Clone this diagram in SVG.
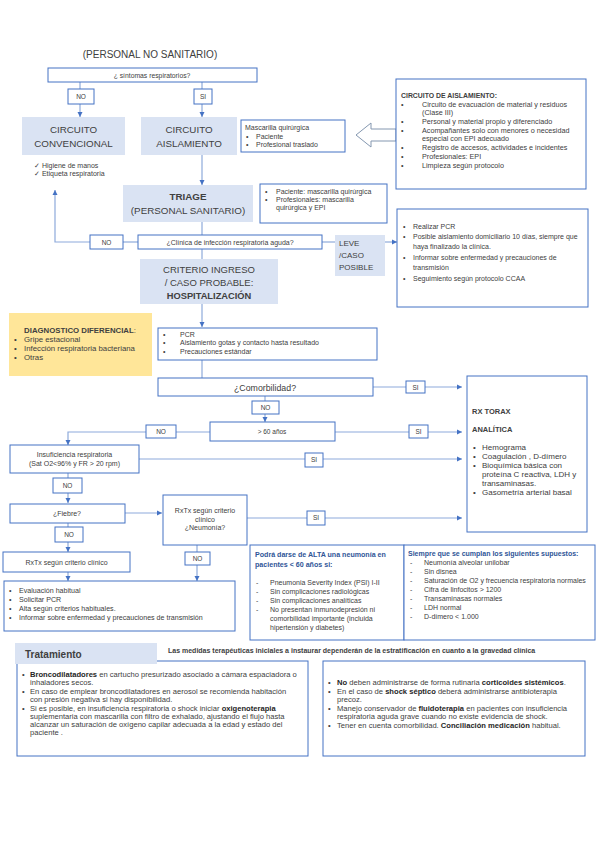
<svg xmlns="http://www.w3.org/2000/svg" width="600" height="848" viewBox="0 0 600 848">
<defs>
<marker id="ah" markerWidth="6" markerHeight="6" refX="5" refY="3" orient="auto" markerUnits="userSpaceOnUse"><path d="M0,0.5 L5,3 L0,5.5 Z" fill="#4472c4"/></marker>
<style>
text{font-family:"Liberation Sans",Arial,sans-serif;fill:#404040}
.b{fill:#fff;stroke:#4472c4;stroke-width:1}
.f{fill:#dae3f3;stroke:none}
.ln{stroke:#8eaadb;stroke-width:1.2;fill:none}
.ar{stroke:#8eaadb;stroke-width:1.2;fill:none;marker-end:url(#ah)}
.s7{font-size:7px}
.s65{font-size:6.5px}
.big{font-size:9.8px}
.m{text-anchor:middle}
.bd{font-weight:bold}
.blue{fill:#2f5597;font-weight:bold}
</style>
</defs>
<rect width="600" height="848" fill="#fff"/>

<g id="connectors">
<path class="ln" d="M80,82 V89"/><path class="ar" d="M80,104 V117"/>
<path class="ln" d="M202,82 V89"/><path class="ar" d="M202,104 V117"/>
<path class="ar" d="M202,155 V185"/>
<path class="ln" d="M202,222 V235"/>
<path class="ln" d="M202,249 V259"/>
<path class="ln" d="M123,242 H138"/>
<path class="ar" d="M90,242 H55 V190"/>
<path class="ln" d="M322,242 H335"/>
<path class="ar" d="M385,242 H397"/>
<path class="ar" d="M202,304 V327"/>
<path class="ln" d="M202,360 V378"/>
<path class="ln" d="M373,387 H406"/><path class="ar" d="M425,387 H462"/>
<path class="ln" d="M265,396 V401"/><path class="ar" d="M265,414 V422"/>
<path class="ln" d="M335,432 H409"/><path class="ar" d="M428,432 H462"/>
<path class="ln" d="M176,432 H210"/>
<path class="ar" d="M146,432 H68 V445"/>
<path class="ln" d="M139,459 H305"/><path class="ar" d="M323,459 H462"/>
<path class="ln" d="M68,473 V478"/><path class="ar" d="M68,493 V503"/>
<path class="ar" d="M125,513 H162"/>
<path class="ln" d="M247,518 H307"/><path class="ar" d="M325,518 H462"/>
<path class="ln" d="M68,523 V527"/><path class="ar" d="M68,542 V552"/>
<path class="ar" d="M68,572 V581"/>
<path class="ln" d="M197,545 V552"/><path class="ar" d="M197,565 V581"/>
</g>

<g id="title"><text x="150" y="58" font-size="10" class="m">(PERSONAL NO SANITARIO)</text></g>

<g id="n-sintomas"><rect class="b" x="48" y="68" width="209" height="14"/><text x="152" y="78" font-size="6.8" class="m">¿ síntomas respiratorios?</text></g>
<g id="n-no1"><rect class="b" x="68" y="89" width="26" height="15"/><text x="81" y="99" class="s65 m">NO</text></g>
<g id="n-si1"><rect class="b" x="194" y="89" width="18" height="15"/><text x="203" y="99" class="s65 m">SI</text></g>

<g id="n-conv"><rect class="f" x="22" y="117" width="103" height="38"/><text x="73.5" y="133" class="big m">CIRCUITO</text><text x="73.5" y="147" class="big m">CONVENCIONAL</text></g>
<g id="n-aisl"><rect class="f" x="141" y="117" width="96" height="38"/><text x="189" y="133" class="big m">CIRCUITO</text><text x="189" y="147" class="big m">AISLAMIENTO</text></g>
<g id="n-masc"><rect class="b" x="241" y="120" width="104" height="32"/>
<text x="245" y="130" class="s7">Mascarilla quirúrgica</text>
<text x="246" y="139" class="s7">•</text><text x="256" y="139" class="s7">Paciente</text>
<text x="246" y="147" class="s7">•</text><text x="256" y="147" class="s7">Profesional traslado</text></g>
<g id="n-hig"><text x="34" y="168" class="s7">✓ Higiene de manos</text><text x="34" y="176" class="s7">✓ Etiqueta respiratoria</text></g>

<g id="n-hollow"><polygon points="356,135 371,123 371,129 396,129 396,141 371,141 371,147" fill="#fff" stroke="#8497b0" stroke-width="1"/></g>

<g id="n-circ"><rect class="b" x="396" y="79" width="190" height="110"/>
<text x="401" y="98" font-size="6.9" class="bd" fill="#262626">CIRCUITO DE AISLAMIENTO:</text>
<g font-size="7.2">
<text x="401" y="107">•</text><text x="422" y="107">Circuito de evacuación de material y residuos</text>
<text x="422" y="115">(Clase III)</text>
<text x="401" y="124">•</text><text x="422" y="124">Personal y material propio y diferenciado</text>
<text x="401" y="133">•</text><text x="422" y="133">Acompañantes solo con menores o necesidad</text>
<text x="422" y="141">especial con EPI adecuado</text>
<text x="401" y="150">•</text><text x="422" y="150">Registro de accesos, actividades e incidentes</text>
<text x="401" y="159">•</text><text x="422" y="159">Profesionales: EPI</text>
<text x="401" y="168">•</text><text x="422" y="168">Limpieza según protocolo</text>
</g></g>

<g id="n-triage"><rect class="f" x="123" y="185" width="130" height="37"/><text x="188" y="200" class="big m bd">TRIAGE</text><text x="188" y="214" class="big m">(PERSONAL SANITARIO)</text></g>
<g id="n-pac"><rect class="b" x="260" y="184" width="127" height="39"/>
<text x="265" y="194" class="s7">•</text><text x="276" y="194" class="s7">Paciente: mascarilla quirúrgica</text>
<text x="265" y="202" class="s7">•</text><text x="276" y="202" class="s7">Profesionales: mascarilla</text>
<text x="276" y="210" class="s7">quirúrgica y EPI</text></g>

<g id="n-clin"><rect class="b" x="138" y="235" width="184" height="14"/><text x="230" y="245" class="s7 m">¿Clínica de infección respiratoria aguda?</text></g>
<g id="n-no2"><rect class="b" x="90" y="235" width="33" height="14"/><text x="106.5" y="245" class="s65 m">NO</text></g>
<g id="n-leve"><rect class="f" x="335" y="235" width="50" height="41"/>
<text x="339" y="246" font-size="8">LEVE</text><text x="339" y="258" font-size="8">/CASO</text><text x="339" y="270" font-size="8">POSIBLE</text></g>
<g id="n-pcr1"><rect class="b" x="397" y="209" width="191" height="98"/>
<g class="s7">
<text x="403" y="229">•</text><text x="413" y="229">Realizar PCR</text>
<text x="403" y="239">•</text><text x="413" y="239">Posible aislamiento domiciliario 10 días, siempre que</text>
<text x="413" y="249">haya finalizado la clínica.</text>
<text x="403" y="260">•</text><text x="413" y="260">Informar sobre enfermedad y precauciones de</text>
<text x="413" y="270">transmisión</text>
<text x="403" y="281">•</text><text x="413" y="281">Seguimiento según protocolo CCAA</text>
</g></g>

<g id="n-crit"><rect class="f" x="140" y="259" width="138" height="45"/>
<text x="209" y="273" font-size="9.5" class="m">CRITERIO INGRESO</text>
<text x="209" y="286" font-size="9.5" class="m">/ CASO PROBABLE:</text>
<text x="209" y="299" font-size="9.3" class="m bd">HOSPITALIZACIÓN</text></g>

<g id="n-diag"><rect x="9" y="313" width="143" height="63" fill="#ffe699"/>
<text x="80" y="333" font-size="7.8" class="m bd">DIAGNOSTICO DIFERENCIAL<tspan font-weight="normal">:</tspan></text>
<text x="14" y="342" font-size="7.8">•</text><text x="24" y="342" font-size="7.8">Gripe estacional</text>
<text x="14" y="351" font-size="7.8">•</text><text x="24" y="351" font-size="7.8">Infección respiratoria bacteriana</text>
<text x="14" y="360" font-size="7.8">•</text><text x="24" y="360" font-size="7.8">Otras</text></g>

<g id="n-pcr2"><rect class="b" x="158" y="328" width="219" height="32"/>
<text x="163" y="337" class="s7">•</text><text x="180" y="337" class="s7">PCR</text>
<text x="163" y="345" class="s7">•</text><text x="180" y="345" class="s7">Aislamiento gotas y contacto hasta resultado</text>
<text x="163" y="354" class="s7">•</text><text x="180" y="354" class="s7">Precauciones estándar</text></g>

<g id="n-comor"><rect class="b" x="158" y="378" width="215" height="18"/><text x="265" y="391" font-size="8.8" class="m">¿Comorbilidad?</text></g>
<g id="n-si2"><rect class="b" x="406" y="381" width="19" height="12"/><text x="415.5" y="390" class="s65 m">SI</text></g>
<g id="n-no3"><rect class="b" x="252" y="401" width="27" height="13"/><text x="265.5" y="410" class="s65 m">NO</text></g>
<g id="n-60"><rect class="b" x="210" y="422" width="125" height="19"/><text x="272" y="434" class="s65 m">&gt; 60 años</text></g>
<g id="n-si3"><rect class="b" x="409" y="425" width="19" height="13"/><text x="418.5" y="434" class="s65 m">SI</text></g>
<g id="n-no4"><rect class="b" x="146" y="425" width="30" height="13"/><text x="161" y="434" class="s65 m">NO</text></g>

<g id="n-rx"><rect class="b" x="467" y="376" width="120" height="156"/>
<text x="472" y="414" font-size="7.5" class="bd" fill="#262626">RX TORAX</text>
<text x="472" y="432" font-size="7.5" class="bd" fill="#262626">ANALÍTICA</text>
<g font-size="8">
<text x="473" y="450">•</text><text x="482" y="450">Hemograma</text>
<text x="473" y="459">•</text><text x="482" y="459">Coagulación , D-dímero</text>
<text x="473" y="468">•</text><text x="482" y="468">Bioquímica básica con</text>
<text x="482" y="477">proteína C reactiva, LDH y</text>
<text x="482" y="486">transaminasas.</text>
<text x="473" y="495">•</text><text x="482" y="495">Gasometría arterial basal</text>
</g></g>

<g id="n-insuf"><rect class="b" x="10" y="445" width="129" height="28"/>
<text x="74.5" y="457" class="s7 m">Insuficiencia respiratoria</text>
<text x="74.5" y="466" class="s7 m">(Sat O2&lt;96%  y FR &gt; 20 rpm)</text></g>
<g id="n-si4"><rect class="b" x="305" y="453" width="18" height="14"/><text x="314" y="462" class="s65 m">SI</text></g>
<g id="n-no5"><rect class="b" x="53" y="478" width="29" height="15"/><text x="67.5" y="488" class="s65 m">NO</text></g>
<g id="n-fiebre"><rect class="b" x="10" y="504" width="115" height="19"/><text x="67" y="516" class="s7 m">¿Fiebre?</text></g>
<g id="n-neum"><rect class="b" x="163" y="495" width="84" height="50"/>
<text x="205" y="513" class="s7 m">RxTx según criterio</text>
<text x="205" y="522" class="s7 m">clínico</text>
<text x="205" y="530" class="s7 m">¿Neumonía?</text></g>
<g id="n-si5"><rect class="b" x="307" y="511" width="18" height="14"/><text x="316" y="520" class="s65 m">SI</text></g>
<g id="n-no6"><rect class="b" x="55" y="527" width="28" height="15"/><text x="69" y="537" class="s65 m">NO</text></g>
<g id="n-rxtx"><rect class="b" x="3" y="552" width="127" height="20"/><text x="66.5" y="565" class="s7 m">RxTx según criterio clínico</text></g>
<g id="n-no7"><rect class="b" x="185" y="552" width="25" height="13"/><text x="197.5" y="561" class="s65 m">NO</text></g>

<g id="n-eval"><rect class="b" x="4" y="581" width="231" height="50"/>
<g font-size="7.1">
<text x="9" y="593">•</text><text x="19" y="593">Evaluación habitual</text>
<text x="9" y="602">•</text><text x="19" y="602">Solicitar PCR</text>
<text x="9" y="611">•</text><text x="19" y="611">Alta según criterios habituales.</text>
<text x="9" y="620">•</text><text x="19" y="620">Informar sobre enfermedad y precauciones de transmisión</text>
</g></g>

<g id="n-alta"><rect class="b" x="250" y="545" width="154" height="95"/>
<text x="255" y="557" font-size="7.1" class="blue">Podrá darse de ALTA una neumonía en</text>
<text x="255" y="567" font-size="7.1" class="blue">pacientes &lt; 60 años si:</text>
<g class="s7">
<text x="256" y="585">-</text><text x="270" y="585">Pneumonia Severity Index (PSI) I-II</text>
<text x="256" y="594">-</text><text x="270" y="594">Sin complicaciones radiológicas</text>
<text x="256" y="603">-</text><text x="270" y="603">Sin  complicaciones analíticas</text>
<text x="256" y="612">-</text><text x="270" y="612">No presentan inmunodepresión ni</text>
<text x="270" y="621">comorbilidad importante (incluida</text>
<text x="270" y="630">hipertensión y diabetes)</text>
</g></g>
<g id="n-siempre"><rect class="b" x="404" y="545" width="191" height="95"/>
<text x="408" y="556" font-size="7" class="blue">Siempre que se cumplan los siguientes supuestos:</text>
<g class="s7">
<text x="410" y="565">-</text><text x="424" y="565">Neumonía alveolar unilobar</text>
<text x="410" y="574">-</text><text x="424" y="574">Sin disnea</text>
<text x="410" y="583">-</text><text x="424" y="583">Saturación de O2 y frecuencia respiratoria normales</text>
<text x="410" y="592">-</text><text x="424" y="592">Cifra de linfocitos &gt; 1200</text>
<text x="410" y="601">-</text><text x="424" y="601">Transaminasas normales</text>
<text x="410" y="610">-</text><text x="424" y="610">LDH normal</text>
<text x="410" y="619">-</text><text x="424" y="619">D-dímero &lt; 1.000</text>
</g></g>

<g id="n-trat-left"><rect class="b" x="17" y="661" width="291" height="95"/>
<g font-size="7.6">
<text x="22" y="677">•</text><text x="30" y="677"><tspan class="bd" fill="#262626">Broncodilatadores</tspan> en cartucho presurizado asociado a cámara espaciadora o</text>
<text x="30" y="685">inhaladores secos.</text>
<text x="22" y="694">•</text><text x="30" y="694">En caso de emplear broncodilatadores en aerosol se recomienda habitación</text>
<text x="30" y="702">con presión negativa si hay disponibilidad.</text>
<text x="22" y="711">•</text><text x="30" y="711">Si es posible, en insuficiencia respiratoria o shock iniciar <tspan class="bd" fill="#262626">oxigenoterapia</tspan></text>
<text x="30" y="719">suplementaria con mascarilla con filtro de exhalado, ajustando el flujo hasta</text>
<text x="30" y="727">alcanzar un saturación de oxígeno capilar adecuada a la edad y estado del</text>
<text x="30" y="735">paciente .</text>
</g></g>
<g id="n-trat-head"><rect class="f" x="15" y="643" width="142" height="21"/><text x="25" y="658" font-size="10" class="bd" fill="#262626">Tratamiento</text>
<text x="168" y="653" font-size="7" class="bd" fill="#262626">Las medidas terapéuticas iniciales a instaurar dependerán de la estratificación en cuanto a la gravedad clínica</text></g>
<g id="n-trat-right"><rect class="b" x="323" y="661" width="262" height="95"/>
<g font-size="7.6">
<text x="328" y="685">•</text><text x="337" y="685"><tspan class="bd" fill="#262626">No</tspan> deben administrarse de forma rutinaria <tspan class="bd" fill="#262626">corticoides sistémicos</tspan>.</text>
<text x="328" y="694">•</text><text x="337" y="694">En el caso de <tspan class="bd" fill="#262626">shock séptico</tspan> deberá administrarse antibioterapia</text>
<text x="337" y="702">precoz.</text>
<text x="328" y="711">•</text><text x="337" y="711">Manejo conservador de <tspan class="bd" fill="#262626">fluidoterapia</tspan> en pacientes con insuficiencia</text>
<text x="337" y="719">respiratoria aguda grave cuando no existe evidencia de shock.</text>
<text x="328" y="728">•</text><text x="337" y="728">Tener en cuenta comorbilidad. <tspan class="bd" fill="#262626">Conciliación medicación</tspan> habitual.</text>
</g></g>
</svg>
